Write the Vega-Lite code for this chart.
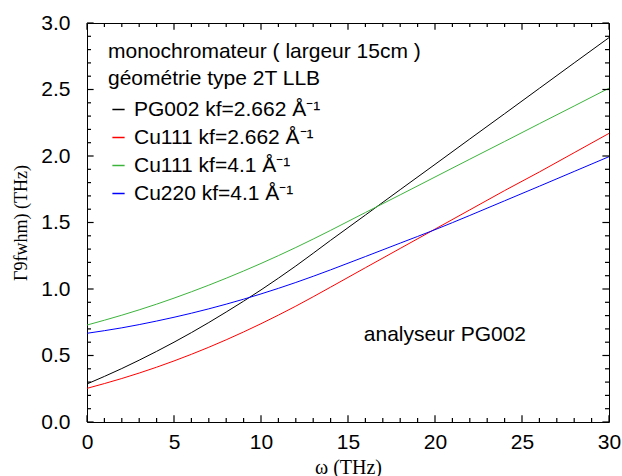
{
  "$schema": "https://vega.github.io/schema/vega-lite/v6.json",
  "autosize": {"type": "none"},
  "padding": {"left": 87, "top": 23, "right": 13, "bottom": 54},
  "width": 522,
  "height": 399,
  "background": "white",
  "config": {
    "view": {"stroke": "black", "strokeWidth": 1},
    "axis": {
      "grid": false,
      "domain": false,
      "ticks": false,
      "labelFont": "Liberation Sans",
      "labelFontSize": 21,
      "labelColor": "black",
      "titleFont": "Liberation Serif",
      "titleFontSize": 18,
      "titleFontWeight": "normal",
      "titleColor": "black"
    },
    "legend": {
      "labelFont": "Liberation Sans",
      "labelFontSize": 21,
      "labelColor": "black",
      "titleFont": "Liberation Sans",
      "titleFontSize": 21,
      "titleFontWeight": "normal",
      "titleColor": "black",
      "titleLineHeight": 27,
      "titleLimit": 400,
      "labelLimit": 400
    }
  },
  "datasets": {
    "xmaj": [{"t": 0}, {"t": 5}, {"t": 10}, {"t": 15}, {"t": 20}, {"t": 25}, {"t": 30}],
    "xmin": [{"t": 1}, {"t": 2}, {"t": 3}, {"t": 4}, {"t": 6}, {"t": 7}, {"t": 8}, {"t": 9}, {"t": 11}, {"t": 12}, {"t": 13}, {"t": 14}, {"t": 16}, {"t": 17}, {"t": 18}, {"t": 19}, {"t": 21}, {"t": 22}, {"t": 23}, {"t": 24}, {"t": 26}, {"t": 27}, {"t": 28}, {"t": 29}],
    "ymaj": [{"t": 0}, {"t": 0.5}, {"t": 1}, {"t": 1.5}, {"t": 2}, {"t": 2.5}, {"t": 3}],
    "ymin": [{"t": 0.1}, {"t": 0.2}, {"t": 0.3}, {"t": 0.4}, {"t": 0.6}, {"t": 0.7}, {"t": 0.8}, {"t": 0.9}, {"t": 1.1}, {"t": 1.2}, {"t": 1.3}, {"t": 1.4}, {"t": 1.6}, {"t": 1.7}, {"t": 1.8}, {"t": 1.9}, {"t": 2.1}, {"t": 2.2}, {"t": 2.3}, {"t": 2.4}, {"t": 2.6}, {"t": 2.7}, {"t": 2.8}, {"t": 2.9}],
    "curves": [
      {"w": 0, "v": 0.286, "s": "PG002 kf=2.662 Å⁻¹"},
      {"w": 2, "v": 0.402, "s": "PG002 kf=2.662 Å⁻¹"},
      {"w": 4, "v": 0.531, "s": "PG002 kf=2.662 Å⁻¹"},
      {"w": 6, "v": 0.672, "s": "PG002 kf=2.662 Å⁻¹"},
      {"w": 8, "v": 0.827, "s": "PG002 kf=2.662 Å⁻¹"},
      {"w": 10, "v": 0.993, "s": "PG002 kf=2.662 Å⁻¹"},
      {"w": 12, "v": 1.173, "s": "PG002 kf=2.662 Å⁻¹"},
      {"w": 14, "v": 1.366, "s": "PG002 kf=2.662 Å⁻¹"},
      {"w": 16, "v": 1.556, "s": "PG002 kf=2.662 Å⁻¹"},
      {"w": 18, "v": 1.747, "s": "PG002 kf=2.662 Å⁻¹"},
      {"w": 20, "v": 1.937, "s": "PG002 kf=2.662 Å⁻¹"},
      {"w": 22, "v": 2.128, "s": "PG002 kf=2.662 Å⁻¹"},
      {"w": 24, "v": 2.318, "s": "PG002 kf=2.662 Å⁻¹"},
      {"w": 26, "v": 2.509, "s": "PG002 kf=2.662 Å⁻¹"},
      {"w": 28, "v": 2.700, "s": "PG002 kf=2.662 Å⁻¹"},
      {"w": 30, "v": 2.890, "s": "PG002 kf=2.662 Å⁻¹"},
      {"w": 0, "v": 0.253, "s": "Cu111 kf=2.662 Å⁻¹"},
      {"w": 2, "v": 0.327, "s": "Cu111 kf=2.662 Å⁻¹"},
      {"w": 4, "v": 0.412, "s": "Cu111 kf=2.662 Å⁻¹"},
      {"w": 6, "v": 0.509, "s": "Cu111 kf=2.662 Å⁻¹"},
      {"w": 8, "v": 0.618, "s": "Cu111 kf=2.662 Å⁻¹"},
      {"w": 10, "v": 0.739, "s": "Cu111 kf=2.662 Å⁻¹"},
      {"w": 12, "v": 0.871, "s": "Cu111 kf=2.662 Å⁻¹"},
      {"w": 14, "v": 1.014, "s": "Cu111 kf=2.662 Å⁻¹"},
      {"w": 16, "v": 1.160, "s": "Cu111 kf=2.662 Å⁻¹"},
      {"w": 18, "v": 1.305, "s": "Cu111 kf=2.662 Å⁻¹"},
      {"w": 20, "v": 1.450, "s": "Cu111 kf=2.662 Å⁻¹"},
      {"w": 22, "v": 1.595, "s": "Cu111 kf=2.662 Å⁻¹"},
      {"w": 24, "v": 1.740, "s": "Cu111 kf=2.662 Å⁻¹"},
      {"w": 26, "v": 1.880, "s": "Cu111 kf=2.662 Å⁻¹"},
      {"w": 28, "v": 2.025, "s": "Cu111 kf=2.662 Å⁻¹"},
      {"w": 30, "v": 2.170, "s": "Cu111 kf=2.662 Å⁻¹"},
      {"w": 0, "v": 0.729, "s": "Cu111 kf=4.1 Å⁻¹"},
      {"w": 2, "v": 0.803, "s": "Cu111 kf=4.1 Å⁻¹"},
      {"w": 4, "v": 0.886, "s": "Cu111 kf=4.1 Å⁻¹"},
      {"w": 6, "v": 0.979, "s": "Cu111 kf=4.1 Å⁻¹"},
      {"w": 8, "v": 1.081, "s": "Cu111 kf=4.1 Å⁻¹"},
      {"w": 10, "v": 1.192, "s": "Cu111 kf=4.1 Å⁻¹"},
      {"w": 12, "v": 1.312, "s": "Cu111 kf=4.1 Å⁻¹"},
      {"w": 14, "v": 1.441, "s": "Cu111 kf=4.1 Å⁻¹"},
      {"w": 16, "v": 1.575, "s": "Cu111 kf=4.1 Å⁻¹"},
      {"w": 18, "v": 1.708, "s": "Cu111 kf=4.1 Å⁻¹"},
      {"w": 20, "v": 1.842, "s": "Cu111 kf=4.1 Å⁻¹"},
      {"w": 22, "v": 1.976, "s": "Cu111 kf=4.1 Å⁻¹"},
      {"w": 24, "v": 2.109, "s": "Cu111 kf=4.1 Å⁻¹"},
      {"w": 26, "v": 2.243, "s": "Cu111 kf=4.1 Å⁻¹"},
      {"w": 28, "v": 2.376, "s": "Cu111 kf=4.1 Å⁻¹"},
      {"w": 30, "v": 2.510, "s": "Cu111 kf=4.1 Å⁻¹"},
      {"w": 0, "v": 0.667, "s": "Cu220 kf=4.1 Å⁻¹"},
      {"w": 2, "v": 0.708, "s": "Cu220 kf=4.1 Å⁻¹"},
      {"w": 4, "v": 0.759, "s": "Cu220 kf=4.1 Å⁻¹"},
      {"w": 6, "v": 0.818, "s": "Cu220 kf=4.1 Å⁻¹"},
      {"w": 8, "v": 0.886, "s": "Cu220 kf=4.1 Å⁻¹"},
      {"w": 10, "v": 0.963, "s": "Cu220 kf=4.1 Å⁻¹"},
      {"w": 12, "v": 1.049, "s": "Cu220 kf=4.1 Å⁻¹"},
      {"w": 14, "v": 1.144, "s": "Cu220 kf=4.1 Å⁻¹"},
      {"w": 16, "v": 1.244, "s": "Cu220 kf=4.1 Å⁻¹"},
      {"w": 18, "v": 1.345, "s": "Cu220 kf=4.1 Å⁻¹"},
      {"w": 20, "v": 1.446, "s": "Cu220 kf=4.1 Å⁻¹"},
      {"w": 22, "v": 1.553, "s": "Cu220 kf=4.1 Å⁻¹"},
      {"w": 24, "v": 1.663, "s": "Cu220 kf=4.1 Å⁻¹"},
      {"w": 26, "v": 1.773, "s": "Cu220 kf=4.1 Å⁻¹"},
      {"w": 28, "v": 1.884, "s": "Cu220 kf=4.1 Å⁻¹"},
      {"w": 30, "v": 1.995, "s": "Cu220 kf=4.1 Å⁻¹"}
    ]
  },
  "layer": [
    {
      "data": {"name": "curves"},
      "mark": {"type": "line", "strokeWidth": 1, "interpolate": "monotone"},
      "encoding": {
        "x": {"field": "w", "type": "quantitative", "scale": {"domain": [0, 30], "nice": false, "zero": false},
              "axis": {"orient": "bottom", "title": "ω (THz)", "titleFontSize": 20, "values": [0, 5, 10, 15, 20, 25, 30], "labelPadding": 9, "titlePadding": 5, "labelFlush": false}},
        "y": {"field": "v", "type": "quantitative", "scale": {"domain": [0, 3], "nice": false, "zero": false},
              "axis": {"orient": "left", "title": "Γ9fwhm) (THz)", "values": [0, 0.5, 1, 1.5, 2, 2.5, 3], "format": ".1f", "labelPadding": 17, "titlePadding": 10, "labelFlush": false}},
        "color": {"field": "s", "type": "nominal",
                  "scale": {"domain": ["PG002 kf=2.662 Å⁻¹", "Cu111 kf=2.662 Å⁻¹", "Cu111 kf=4.1 Å⁻¹", "Cu220 kf=4.1 Å⁻¹"], "range": ["#000000", "#ff0000", "#3cb43c", "#0000ff"]},
                  "legend": {"orient": "none", "legendX": 21, "legendY": 18, "title": ["monochromateur ( largeur 15cm )", "géométrie type 2T LLB"], "symbolType": "stroke", "symbolSize": 150, "symbolStrokeWidth": 1.5, "symbolOpacity": 1, "rowPadding": 6, "titlePadding": 10, "labelOffset": 5, "padding": 0}}
      }
    },
    {
      "data": {"name": "xmaj"},
      "mark": {"type": "rule", "color": "black", "strokeWidth": 1.2},
      "encoding": {"x": {"field": "t", "type": "quantitative"}, "y": {"datum": 0, "type": "quantitative"}, "y2": {"datum": 0.05}}
    },
    {
      "data": {"name": "xmaj"},
      "mark": {"type": "rule", "color": "black", "strokeWidth": 1.2},
      "encoding": {"x": {"field": "t", "type": "quantitative"}, "y": {"datum": 3, "type": "quantitative"}, "y2": {"datum": 2.95}}
    },
    {
      "data": {"name": "xmin"},
      "mark": {"type": "rule", "color": "black", "strokeWidth": 1.2},
      "encoding": {"x": {"field": "t", "type": "quantitative"}, "y": {"datum": 0, "type": "quantitative"}, "y2": {"datum": 0.03}}
    },
    {
      "data": {"name": "xmin"},
      "mark": {"type": "rule", "color": "black", "strokeWidth": 1.2},
      "encoding": {"x": {"field": "t", "type": "quantitative"}, "y": {"datum": 3, "type": "quantitative"}, "y2": {"datum": 2.97}}
    },
    {
      "data": {"name": "ymaj"},
      "mark": {"type": "rule", "color": "black", "strokeWidth": 1.2},
      "encoding": {"y": {"field": "t", "type": "quantitative"}, "x": {"datum": 0, "type": "quantitative"}, "x2": {"datum": 0.38}}
    },
    {
      "data": {"name": "ymaj"},
      "mark": {"type": "rule", "color": "black", "strokeWidth": 1.2},
      "encoding": {"y": {"field": "t", "type": "quantitative"}, "x": {"datum": 30, "type": "quantitative"}, "x2": {"datum": 29.62}}
    },
    {
      "data": {"name": "ymin"},
      "mark": {"type": "rule", "color": "black", "strokeWidth": 1.2},
      "encoding": {"y": {"field": "t", "type": "quantitative"}, "x": {"datum": 0, "type": "quantitative"}, "x2": {"datum": 0.23}}
    },
    {
      "data": {"name": "ymin"},
      "mark": {"type": "rule", "color": "black", "strokeWidth": 1.2},
      "encoding": {"y": {"field": "t", "type": "quantitative"}, "x": {"datum": 30, "type": "quantitative"}, "x2": {"datum": 29.77}}
    },
    {
      "data": {"values": [{"label": "analyseur PG002"}]},
      "mark": {"type": "text", "font": "Liberation Sans", "fontSize": 21, "color": "black", "align": "center", "baseline": "middle"},
      "encoding": {
        "x": {"datum": 20.57, "type": "quantitative"},
        "y": {"datum": 0.654, "type": "quantitative"},
        "text": {"field": "label"}
      }
    }
  ]
}
